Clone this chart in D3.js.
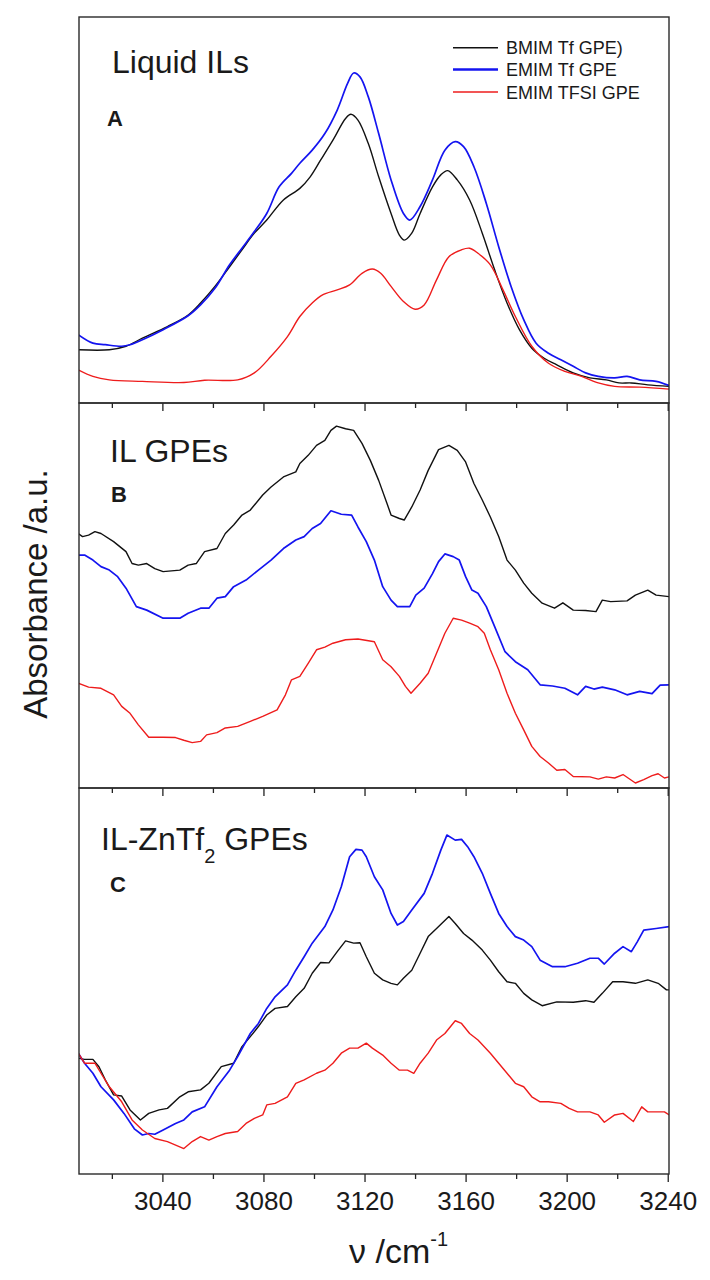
<!DOCTYPE html>
<html><head><meta charset="utf-8">
<script src="https://cdn.jsdelivr.net/npm/d3@7"></script>
<style>
body{margin:0;background:#fff}
svg{display:block;background:#fff}
text{font-family:"Liberation Sans",Arial,Helvetica,sans-serif;fill:#1a1a1a}
</style>
</head><body>
<svg id="chart" width="710" height="1280"></svg>
<script>
// ---------------- data (wavenumber cm^-1, absorbance a.u.) ----------------
const seriesNames = ["BMIM Tf GPE)", "EMIM Tf GPE", "EMIM TFSI GPE"];
const panelTitles = ["Liquid ILs", "IL GPEs", "IL-ZnTf"];
const panelLetters = ["A", "B", "C"];
const xTicks = [3040, 3080, 3120, 3160, 3200, 3240];
const xMinorTicks = [3020, 3060, 3100, 3140, 3180, 3220];
const xDomain = [3007, 3240.5];
const yDomain = [0, 100];

const A_black = [[3006.7,13.8],[3019.0,13.8],[3025.6,14.7],[3032.1,16.8],[3042.0,19.8],[3050.2,22.8],[3055.1,25.9],[3060.8,30.2],[3066.6,35.3],[3071.5,39.7],[3076.4,44.0],[3081.3,47.4],[3087.9,52.6],[3094.4,55.6],[3098.5,58.6],[3102.6,62.9],[3107.5,68.1],[3112.5,73.7],[3114.6,74.8],[3117.4,73.3],[3121.5,67.2],[3125.6,58.6],[3130.5,49.1],[3133.8,43.5],[3135.7,42.2],[3138.7,44.0],[3142.0,49.1],[3146.9,56.0],[3150.2,59.1],[3152.9,60.2],[3156.7,57.8],[3161.6,52.6],[3166.6,44.0],[3171.5,34.5],[3176.4,25.9],[3181.3,19.0],[3186.2,14.2],[3191.1,11.6],[3196.1,9.9],[3202.6,7.8],[3209.2,6.5],[3215.7,6.0],[3220.7,5.2],[3225.6,5.2],[3232.1,4.7],[3240.6,4.3]];
const A_blue = [[3006.7,17.7],[3012.5,15.5],[3017.4,15.1],[3023.9,14.7],[3027.2,15.1],[3032.1,16.4],[3040.3,19.0],[3050.2,22.6],[3055.1,25.4],[3060.8,29.7],[3066.6,35.8],[3071.5,40.1],[3076.4,44.4],[3081.3,49.1],[3086.2,56.0],[3091.1,59.5],[3094.4,62.1],[3099.3,65.5],[3104.3,69.8],[3109.2,75.9],[3113.3,82.8],[3115.7,85.5],[3118.2,84.5],[3121.5,79.3],[3125.6,69.8],[3130.5,57.8],[3135.4,49.1],[3137.9,47.4],[3142.0,50.9],[3146.9,57.8],[3151.8,65.5],[3155.9,67.7],[3159.2,66.4],[3163.3,61.2],[3168.2,51.7],[3173.1,40.5],[3178.0,30.2],[3183.0,21.6],[3187.9,15.5],[3192.8,12.9],[3197.7,11.2],[3202.6,9.5],[3207.5,7.8],[3212.5,6.9],[3219.0,6.5],[3223.9,6.9],[3228.9,6.0],[3235.4,5.6],[3240.6,4.5]];
const A_red = [[3006.7,8.6],[3012.5,6.9],[3019.0,6.0],[3032.1,5.6],[3048.5,5.3],[3056.7,5.9],[3069.8,6.0],[3076.4,7.8],[3083.0,12.1],[3089.5,17.2],[3094.4,22.4],[3099.3,25.9],[3103.4,28.0],[3109.2,29.3],[3114.1,30.6],[3119.0,33.6],[3123.1,34.7],[3126.4,33.6],[3130.5,30.2],[3135.4,26.3],[3140.0,24.3],[3143.6,25.4],[3148.5,31.9],[3153.4,37.9],[3158.4,39.7],[3161.6,40.1],[3164.9,38.8],[3169.8,35.8],[3174.8,29.3],[3179.7,22.4],[3186.2,14.7],[3192.8,10.3],[3199.3,8.2],[3205.9,6.9],[3212.5,5.2],[3219.0,4.3],[3228.9,4.1],[3240.6,3.6]];

const B_black = [[3006.7,66.1],[3008.4,65.3],[3010.8,65.7],[3013.3,66.6],[3015.7,66.1],[3020.7,64.0],[3025.6,61.4],[3028.0,58.3],[3030.5,57.9],[3033.8,58.3],[3037.0,57.0],[3040.3,56.2],[3046.9,56.6],[3050.2,57.9],[3053.4,58.3],[3056.7,61.4],[3061.6,62.2],[3064.9,66.1],[3068.2,68.3],[3071.5,70.9],[3074.8,72.2],[3079.7,76.1],[3083.0,78.2],[3087.9,80.8],[3092.8,82.1],[3094.4,84.3],[3097.7,86.4],[3101.0,89.0],[3104.3,90.3],[3106.7,92.9],[3108.9,94.0],[3112.5,93.3],[3115.7,92.9],[3119.0,89.5],[3122.3,85.1],[3125.6,79.9],[3128.9,73.9],[3130.5,70.9],[3133.8,70.0],[3135.7,69.6],[3138.7,73.0],[3142.0,77.4],[3145.2,82.5],[3149.3,87.9],[3153.4,89.0],[3156.7,87.7],[3160.0,84.7],[3163.3,79.1],[3166.6,74.8],[3169.8,70.4],[3173.1,65.3],[3176.4,59.2],[3179.7,56.6],[3183.0,53.2],[3186.2,50.6],[3190.3,48.0],[3195.2,46.7],[3198.5,48.1],[3202.6,46.2],[3207.5,46.1],[3211.6,45.8],[3214.1,48.8],[3217.4,48.4],[3223.9,48.6],[3227.2,50.1],[3232.1,51.4],[3235.4,50.1],[3240.6,49.7]];
const B_blue = [[3006.7,60.5],[3009.2,60.5],[3012.5,59.2],[3015.7,57.5],[3019.0,56.6],[3022.3,54.9],[3025.6,51.9],[3029.7,47.1],[3033.8,46.2],[3040.3,44.1],[3046.9,44.1],[3050.2,45.4],[3055.1,46.7],[3058.4,46.7],[3061.6,49.3],[3064.9,49.7],[3068.2,52.3],[3073.1,54.0],[3078.0,56.6],[3083.0,59.2],[3087.9,62.2],[3092.8,64.4],[3096.1,65.3],[3099.3,67.4],[3102.6,68.7],[3106.7,72.0],[3110.8,71.1],[3114.9,70.9],[3117.4,67.8],[3120.7,64.0],[3123.9,59.2],[3127.2,52.3],[3130.5,48.8],[3133.0,47.1],[3137.9,47.1],[3140.3,50.1],[3143.6,51.9],[3146.9,55.7],[3149.3,58.8],[3151.8,60.8],[3155.1,60.1],[3157.5,59.2],[3160.0,54.9],[3162.5,51.4],[3164.9,50.6],[3168.2,47.1],[3171.5,41.9],[3175.6,35.4],[3179.7,32.8],[3184.6,30.7],[3189.5,26.8],[3194.4,26.5],[3199.3,25.9],[3204.3,24.2],[3207.5,26.4],[3210.8,25.7],[3214.1,26.2],[3219.0,25.5],[3223.9,24.2],[3228.9,25.1],[3233.8,24.5],[3237.0,26.7],[3240.6,26.8]];
const B_red = [[3006.7,27.2],[3010.8,26.2],[3015.7,25.9],[3020.7,24.2],[3023.9,21.2],[3027.2,19.4],[3030.5,16.4],[3034.6,13.2],[3040.3,13.2],[3045.2,13.1],[3048.5,12.4],[3051.8,11.8],[3055.1,12.1],[3057.5,13.8],[3061.6,14.4],[3064.9,15.6],[3069.8,16.0],[3074.8,17.3],[3079.7,18.6],[3085.4,20.3],[3088.7,24.2],[3091.1,28.1],[3094.4,29.0],[3097.7,32.4],[3101.0,35.9],[3104.3,36.6],[3107.5,37.6],[3112.5,38.5],[3117.4,38.7],[3123.9,38.0],[3127.2,33.3],[3130.5,31.5],[3133.8,29.0],[3136.2,26.4],[3138.4,24.6],[3142.0,27.2],[3145.2,29.8],[3148.5,35.0],[3151.8,40.2],[3155.1,44.1],[3158.4,43.6],[3161.6,42.8],[3164.9,41.9],[3167.4,40.2],[3169.8,35.9],[3173.1,30.7],[3176.4,24.6],[3179.7,19.4],[3183.0,15.1],[3186.2,10.8],[3189.5,8.2],[3192.8,6.5],[3196.1,4.6],[3199.3,4.8],[3202.6,3.0],[3209.2,2.9],[3212.5,2.3],[3215.7,2.9],[3219.0,2.6],[3222.3,3.5],[3227.2,1.3],[3230.5,2.2],[3233.8,3.2],[3236.2,3.7],[3238.7,2.6],[3240.6,2.9]];

const C_black = [[3006.7,30.0],[3009.2,29.7],[3012.5,29.7],[3014.9,27.8],[3017.4,24.4],[3020.7,20.5],[3023.9,20.2],[3027.2,16.6],[3031.3,14.0],[3034.6,15.7],[3038.7,16.6],[3042.0,17.0],[3046.9,20.0],[3050.2,21.3],[3055.1,21.8],[3058.4,23.5],[3063.3,27.8],[3068.2,28.7],[3071.5,33.0],[3074.8,35.6],[3078.0,38.2],[3081.3,41.2],[3084.6,42.9],[3089.5,43.4],[3092.8,45.9],[3096.1,48.1],[3099.3,52.0],[3102.6,54.8],[3105.9,54.7],[3109.2,57.6],[3112.5,60.4],[3115.7,59.8],[3118.2,59.9],[3120.7,56.3],[3123.9,52.0],[3127.2,50.3],[3130.5,49.4],[3133.0,49.0],[3135.4,50.7],[3138.7,52.8],[3142.0,57.2],[3145.2,61.5],[3148.5,63.6],[3153.4,66.7],[3155.9,64.9],[3159.2,62.3],[3162.5,60.6],[3166.6,58.0],[3169.8,55.4],[3173.1,52.4],[3176.4,49.8],[3179.7,49.4],[3183.0,46.8],[3186.2,45.1],[3190.3,43.6],[3196.1,44.6],[3202.6,44.5],[3207.5,44.9],[3210.8,44.5],[3214.1,46.8],[3218.2,49.8],[3222.3,49.8],[3227.2,49.4],[3232.1,50.3],[3236.2,49.4],[3239.5,47.7],[3240.6,47.7]];
const C_blue = [[3006.7,31.3],[3009.2,28.7],[3012.5,26.1],[3015.7,22.6],[3020.7,19.2],[3024.8,15.7],[3028.9,11.7],[3032.1,10.1],[3034.6,10.5],[3037.0,10.3],[3040.3,11.4],[3045.2,13.1],[3048.5,14.0],[3051.8,16.1],[3056.7,17.4],[3061.6,22.6],[3066.6,26.9],[3069.8,30.4],[3074.8,36.4],[3078.0,39.0],[3081.3,42.9],[3084.6,45.9],[3089.5,49.0],[3092.8,52.8],[3096.1,56.3],[3099.3,59.8],[3104.3,64.1],[3107.5,68.4],[3110.8,74.4],[3114.1,82.2],[3116.6,84.1],[3119.0,83.9],[3120.7,82.2],[3123.9,77.0],[3127.2,73.6],[3130.5,67.5],[3133.0,64.5],[3135.4,65.4],[3138.7,68.4],[3143.6,72.7],[3146.9,77.9],[3150.2,83.9],[3152.6,87.8],[3155.9,86.5],[3158.4,86.7],[3160.8,84.8],[3163.3,82.2],[3166.6,77.9],[3169.8,72.7],[3173.1,67.5],[3176.4,64.1],[3179.7,61.5],[3183.0,60.6],[3186.2,58.9],[3189.5,55.4],[3194.4,53.7],[3199.3,53.7],[3204.3,54.6],[3209.2,55.9],[3212.5,55.9],[3214.9,54.4],[3219.0,57.2],[3222.3,58.9],[3225.6,57.6],[3228.0,60.2],[3230.5,63.2],[3235.4,63.6],[3240.6,64.1]];
const C_red = [[3006.7,31.3],[3009.2,28.7],[3013.3,28.7],[3015.7,26.1],[3019.0,22.6],[3023.9,18.7],[3028.0,14.0],[3032.1,11.4],[3037.0,9.2],[3042.0,8.4],[3048.5,6.6],[3051.8,8.4],[3055.1,9.7],[3058.4,8.8],[3061.6,9.7],[3064.9,10.5],[3069.8,11.0],[3073.1,13.1],[3076.4,14.4],[3079.7,15.3],[3081.3,17.9],[3084.6,18.3],[3089.5,20.0],[3092.8,23.5],[3096.1,24.4],[3101.0,26.1],[3104.3,26.9],[3107.5,28.7],[3110.8,31.3],[3114.1,32.6],[3117.4,32.6],[3120.7,33.9],[3123.1,32.6],[3127.2,30.8],[3130.5,28.7],[3133.8,26.9],[3137.0,26.9],[3139.5,26.1],[3142.0,28.7],[3145.2,31.3],[3148.5,34.7],[3151.8,36.4],[3155.9,39.7],[3158.4,39.0],[3161.6,36.4],[3164.9,34.7],[3169.8,31.3],[3173.1,28.7],[3176.4,26.1],[3179.7,23.5],[3183.0,22.6],[3186.2,20.0],[3189.5,18.7],[3192.8,18.7],[3197.7,18.3],[3201.0,17.0],[3204.3,16.1],[3209.2,16.1],[3212.5,15.3],[3214.9,13.4],[3219.0,15.3],[3222.3,15.7],[3226.4,13.6],[3229.7,17.4],[3232.1,16.1],[3235.4,16.1],[3238.7,16.1],[3240.6,15.3]];

// ---------------- styles / layout ----------------
const colors = ["#111111", "#1414f0", "#ee1c1c"];
const widths = [1.4, 1.7, 1.4];
const panelData = [[A_black, A_blue, A_red], [B_black, B_blue, B_red], [C_black, C_blue, C_red]];
const panelCurves = [d3.curveCatmullRom.alpha(0.5), d3.curveLinear, d3.curveLinear];
const L = 79, R = 669;
const panelTops = [17, 403, 788];
const panelBottoms = [403, 788, 1174];
const titlePos = [{x:112, y:73}, {x:110, y:462}, {x:101, y:850}];
const letterPos = [{x:107, y:126}, {x:111, y:502}, {x:110, y:892}];

const svg = d3.select("#chart");
svg.append("rect").attr("width", 710).attr("height", 1280).attr("fill", "#fff");
const x = d3.scaleLinear().domain(xDomain).range([L, R]);

panelData.forEach((series, i) => {
  const top = panelTops[i], bot = panelBottoms[i];
  const y = d3.scaleLinear().domain(yDomain).range([bot, top]);
  const clipId = "clip" + i;
  svg.append("clipPath").attr("id", clipId)
    .append("rect").attr("x", L).attr("y", top).attr("width", R - L).attr("height", bot - top);
  const g = svg.append("g").attr("clip-path", `url(#${clipId})`);
  const line = d3.line().x(d => x(d[0])).y(d => y(d[1])).curve(panelCurves[i]);
  series.forEach((s, k) => {
    g.append("path").datum(s).attr("d", line)
      .attr("fill", "none").attr("stroke", colors[k]).attr("stroke-width", widths[k])
      .attr("stroke-linejoin", "round");
  });

  // ticks (outward below each panel)
  const major = d3.axisBottom(x).tickValues(xTicks).tickSize(8).tickPadding(10)
    .tickFormat(i === 2 ? d3.format("d") : () => "");
  const minor = d3.axisBottom(x).tickValues(xMinorTicks).tickSize(5).tickFormat(() => "");
  const ga = svg.append("g").attr("transform", `translate(0,${bot})`).call(major);
  const gm = svg.append("g").attr("transform", `translate(0,${bot})`).call(minor);
  [ga, gm].forEach(a => {
    a.select(".domain").remove();
    a.selectAll(".tick line").attr("stroke", "#222").attr("stroke-width", 1.3);
  });
  ga.selectAll(".tick text").attr("font-size", 26).attr("fill", "#1a1a1a")
    .attr("font-family", "'Liberation Sans', Arial, sans-serif");

  // frame
  svg.append("rect").attr("x", L).attr("y", top).attr("width", R - L).attr("height", bot - top)
    .attr("fill", "none").attr("stroke", "#2a2a2a").attr("stroke-width", 1.4);

  // title
  const t = svg.append("text").attr("x", titlePos[i].x).attr("y", titlePos[i].y)
    .attr("font-size", 32).text(panelTitles[i]);
  if (i === 2) {
    t.append("tspan").attr("font-size", 20).attr("dy", 13).text("2");
    t.append("tspan").attr("dy", -13).text(" GPEs");
  }
  svg.append("text").attr("x", letterPos[i].x).attr("y", letterPos[i].y)
    .attr("font-size", 22).attr("font-weight", "bold").text(panelLetters[i]);
});

// legend in panel A
const legY = [47.7, 69.5, 92];
seriesNames.forEach((n, k) => {
  svg.append("line").attr("x1", 453).attr("x2", 498).attr("y1", legY[k]).attr("y2", legY[k])
    .attr("stroke", colors[k]).attr("stroke-width", k === 1 ? 2.4 : 1.5);
  svg.append("text").attr("x", 506).attr("y", legY[k] + 6.6).attr("font-size", 18).text(n);
});

// axis labels
svg.append("text").attr("transform", "translate(47,594) rotate(-90)")
  .attr("text-anchor", "middle").attr("font-size", 33).text("Absorbance /a.u.");
const xl = svg.append("text").attr("x", 349).attr("y", 1263).attr("font-size", 34);
xl.append("tspan").text("ν /cm");
xl.append("tspan").attr("font-size", 20).attr("dy", -17).text("-1");
</script>
</body></html>
